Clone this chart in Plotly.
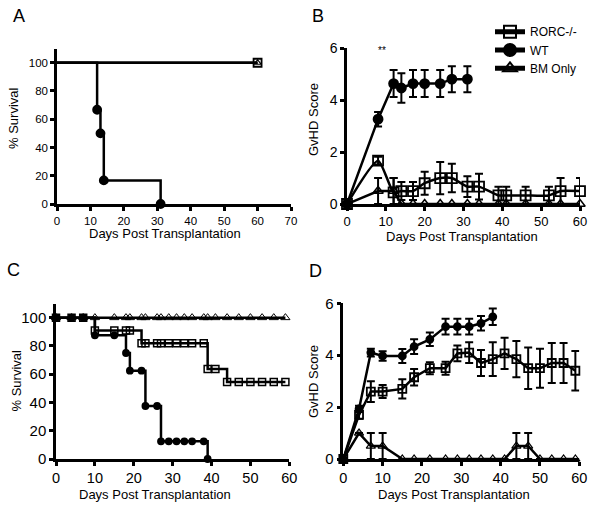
import plotly.graph_objects as go

W, H = 600, 508
FONT = "Liberation Sans, Arial, sans-serif"

# ---------------- data ----------------
# A: % survival (step curves), days
a_wt_days = [0, 12, 13, 14, 31]
a_wt_surv = [100, 66.7, 50, 16.7, 0]
a_wt_marks = [12, 13, 14, 31]
a_ko_days = [0, 60]
a_ko_surv = [100, 100]
a_ko_marks = [60]
a_bm_marks = [60]

# B: GvHD score (mean, error)
b_wt_day = [0, 8, 12, 14, 17, 20, 24, 27, 31]
b_wt_score = [0, 3.27, 4.64, 4.47, 4.64, 4.64, 4.64, 4.81, 4.81]
b_wt_err = [None, 0.28, 0.52, 0.57, 0.52, 0.52, 0.52, 0.5, 0.5]
b_ko_day = [0, 8, 12, 14, 17, 20, 24, 27, 31, 34, 39, 41, 46, 52, 55, 60]
b_ko_score = [0, 1.67, 0.45, 0.5, 0.5, 0.8, 1.0, 1.0, 0.67, 0.67, 0.33, 0.33, 0.33, 0.33, 0.5, 0.5]
b_ko_err = [None, 0.15, 0.55, 0.35, 0.35, 0.44, 0.62, 0.55, 0.4, 0.5, 0.33, 0.33, 0.33, 0.33, 0.5, 0.5]
b_bm_day = [0, 8, 12, 14, 17, 20, 24, 27, 31, 34, 39, 41, 46, 52, 55, 60]
b_bm_score = [0, 0.5, 0.5, 0, 0, 0, 0, 0, 0, 0, 0, 0, 0, 0, 0, 0]
b_bm_err = [None, 0.5, 0.5] + [None] * 13

# C: % survival (step curves)
c_wt_days = [0, 10, 18, 19, 23, 27, 39]
c_wt_surv = [100, 87.5, 75, 62.5, 37.5, 12.5, 0]
c_ko_days = [0, 10, 22, 39, 44, 59]
c_ko_surv = [100, 90.9, 81.8, 63.6, 54.5, 54.5]
c_bm_days = [0, 59]
c_bm_surv = [100, 100]
c_marks = [0, 4, 7, 10, 15, 18, 19, 22, 23, 26, 27, 29, 31, 33, 35, 38, 39,
           41, 44, 47, 50, 53, 56, 59]

# D: GvHD score (mean, error)
d_wt_day = [0, 4, 7, 10, 15, 18, 22, 26, 29, 32, 35, 38]
d_wt_score = [0, 1.93, 4.1, 3.97, 3.97, 4.33, 4.61, 5.1, 5.1, 5.1, 5.23, 5.48]
d_wt_err = [None, 0.12, 0.15, 0.18, 0.27, 0.28, 0.26, 0.3, 0.3, 0.3, 0.28, 0.32]
d_ko_day = [0, 4, 7, 10, 15, 18, 22, 26, 29, 32, 35, 38, 41, 44, 47, 50, 53, 56, 59]
d_ko_score = [0, 1.7, 2.6, 2.6, 2.7, 3.15, 3.5, 3.5, 4.07, 4.1, 3.7, 3.85, 4.07, 3.85,
              3.5, 3.5, 3.7, 3.7, 3.4]
d_ko_err = [None, 0.15, 0.4, 0.25, 0.37, 0.32, 0.23, 0.25, 0.3, 0.4, 0.5, 0.65, 0.6,
            0.7, 0.8, 0.75, 0.77, 0.77, 0.76]
d_bm_day = [0, 4, 7, 10, 15, 18, 22, 26, 29, 32, 35, 38, 41, 44, 47, 50, 53, 56, 59]
d_bm_score = [0, 1.0, 0.5, 0.5, 0, 0, 0, 0, 0, 0, 0, 0, 0, 0.5, 0.5, 0, 0, 0, 0]
d_bm_err = [None, None, 0.5, 0.5] + [None] * 9 + [0.5, 0.5] + [None] * 4


def step_at(days, surv, t):
    v = surv[0]
    for d, s in zip(days, surv):
        if d <= t:
            v = s
    return v


fig = go.Figure()

LW = 2.5
sym = {"RORC-/-": "square-open", "WT": "circle", "BM Only": "triangle-up-open"}
leg = {"RORC-/-": "legend", "WT": "legend2", "BM Only": "legend3"}


def mk(name, size, lw=1.8):
    return dict(symbol=sym[name], size=size, color="black", line=dict(color="black", width=lw))


def survival(days, surv, marks, name, size, ax, lw=1.8):
    fig.add_trace(go.Scatter(x=days, y=surv, mode="lines", line=dict(color="black", width=LW, shape="hv"),
                             xaxis=ax[0], yaxis=ax[1], showlegend=False, hoverinfo="skip"))
    if marks:
        fig.add_trace(go.Scatter(x=marks, y=[step_at(days, surv, t) for t in marks], mode="markers",
                                 marker=mk(name, size, lw), xaxis=ax[0], yaxis=ax[1], showlegend=False,
                                 cliponaxis=False, name=name))


def score(day, val, err, name, size, ax, legend=False, shape="linear", lw=1.8):
    fig.add_trace(go.Scatter(x=day, y=val, mode="lines+markers", name=name,
                             line=dict(color="black", width=LW, shape=shape, smoothing=0.6),
                             marker=mk(name, size, lw),
                             error_y=dict(type="data", array=err, visible=True, color="black",
                                          thickness=2, width=4),
                             xaxis=ax[0], yaxis=ax[1], showlegend=legend, legend=leg[name],
                             cliponaxis=False))


# A
survival(a_ko_days, a_ko_surv, a_ko_marks, "RORC-/-", 8, ("x", "y"))
survival(a_ko_days, a_ko_surv, a_bm_marks, "BM Only", 6, ("x", "y"), 1.2)
survival(a_wt_days, a_wt_surv, a_wt_marks, "WT", 8, ("x", "y"))

# B
score(b_ko_day, b_ko_score, b_ko_err, "RORC-/-", 10, ("x2", "y2"), legend=True, shape="spline")
score(b_wt_day, b_wt_score, b_wt_err, "WT", 9, ("x2", "y2"), legend=True)
score(b_bm_day, b_bm_score, b_bm_err, "BM Only", 9, ("x2", "y2"), legend=True, lw=1.5)

# C
survival(c_bm_days, c_bm_surv, c_marks, "BM Only", 8, ("x3", "y3"), 1.0)
survival(c_ko_days, c_ko_surv, c_marks, "RORC-/-", 7, ("x3", "y3"), 1.5)
survival(c_wt_days, c_wt_surv, [t for t in c_marks if t <= c_wt_days[-1]], "WT", 6, ("x3", "y3"))

# D
score(d_ko_day, d_ko_score, d_ko_err, "RORC-/-", 8, ("x4", "y4"))
score(d_wt_day, d_wt_score, d_wt_err, "WT", 7, ("x4", "y4"))
score(d_bm_day, d_bm_score, d_bm_err, "BM Only", 8, ("x4", "y4"), lw=1.2)


def px_x(a, b):
    return [a / W, b / W]


def px_y(top, bottom):
    return [1 - bottom / H, 1 - top / H]


def axis(dom, rng, dtick, size, anchor):
    return dict(domain=dom, range=rng, dtick=dtick, tick0=0, anchor=anchor,
                showline=True, linecolor="black", linewidth=2.5,
                ticks="outside", ticklen=4, tickwidth=2.5, tickcolor="black",
                showgrid=False, zeroline=False, fixedrange=True, automargin=False,
                tickfont=dict(size=size, color="black", family=FONT))


fig.update_layout(
    template="none",
    xaxis=axis(px_x(57, 291), [0, 70], 10, 11.5, "y"),
    yaxis=axis(px_y(48.6, 204), [0, 110], 20, 11.5, "x"),
    xaxis2=axis(px_x(347, 580), [0, 60], 10, 13, "y2"),
    yaxis2=axis(px_y(48.3, 204), [0, 6], 2, 14, "x2"),
    xaxis3=axis(px_x(56, 289.3), [0, 60], 10, 14.5, "y3"),
    yaxis3=axis(px_y(303.5, 459), [0, 110], 20, 15, "x3"),
    xaxis4=axis(px_x(343.3, 579.3), [0, 60], 10, 14.5, "y4"),
    yaxis4=axis(px_y(303.3, 459), [0, 6], 2, 15, "x4"),
)


def label(text, x, y, size, angle=0):
    fig.add_annotation(text=text, x=x / W, y=1 - y / H, xref="paper", yref="paper",
                       showarrow=False, textangle=angle, xanchor="center", yanchor="middle",
                       font=dict(size=size, color="black", family=FONT))


for t, x, y in [("A", 18.5, 16), ("B", 318, 16), ("C", 13, 270), ("D", 316, 271)]:
    label(t, x, y, 18)

for x, y in [(165, 233), (462, 236), (154.5, 494), (454.5, 494)]:
    label("Days Post Transplantation", x, y, 13)

label("% Survival", 13, 118, 13, -90)
label("GvHD Score", 313, 119, 13, -90)
label("% Survival", 15.5, 381, 13, -90)
label("GvHD Score", 313, 381, 13, -90)

fig.add_annotation(text="**", x=9, y=5.9, xref="x2", yref="y2", showarrow=False,
                   font=dict(size=10, color="black", family=FONT))
fig.add_annotation(text="*", x=26, y=6.25, xref="x4", yref="y4", showarrow=False,
                   font=dict(size=10, color="black", family=FONT))


def legend_box(yc):
    return dict(x=490 / W, y=1 - yc / H, xanchor="left", yanchor="middle",
                font=dict(size=12, color="black", family=FONT), bgcolor="rgba(0,0,0,0)",
                borderwidth=0, itemwidth=30, itemsizing="constant")


fig.update_layout(
    width=W, height=H,
    margin=dict(l=0, r=0, t=0, b=0, pad=0, autoexpand=False),
    paper_bgcolor="white", plot_bgcolor="white",
    font=dict(family=FONT, color="black"),
    legend=legend_box(31.7), legend2=legend_box(50), legend3=legend_box(68.3),
)

# drop the page's default body margin so the figure sits at the window corner
fig.write_html("out.html", config={"displayModeBar": False},
               post_script="document.body.style.margin='0';")
